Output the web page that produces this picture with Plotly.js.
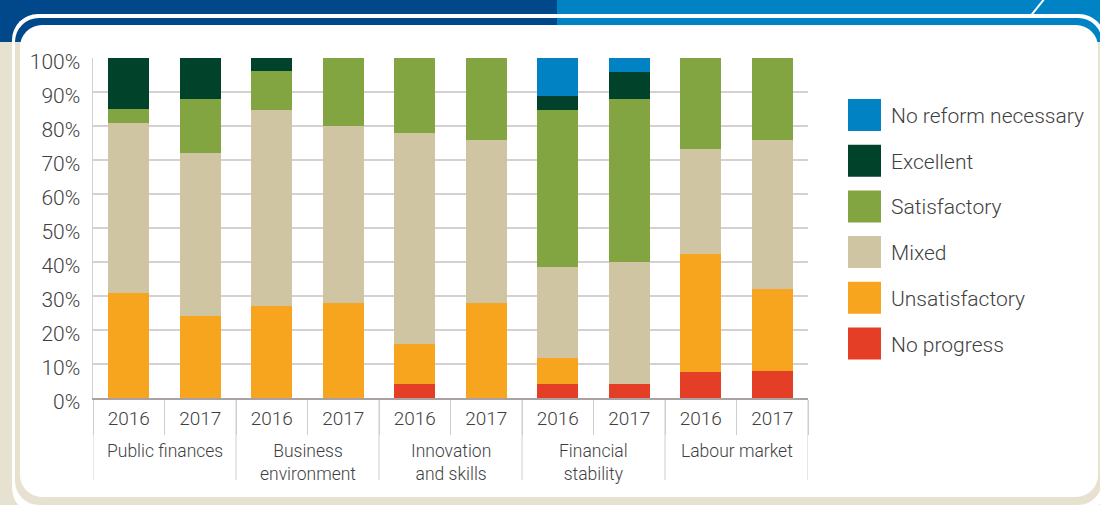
<!DOCTYPE html>
<html>
<head>
<meta charset="utf-8">
<script src="https://cdn.plot.ly/plotly-3.0.1.min.js"></script>
<style>
  html, body { margin: 0; padding: 0; width: 1100px; height: 505px; overflow: hidden; background: #e7e1d0; }
  .abs { position: absolute; }
  #band { left: 0; top: 0; width: 1100px; height: 42px;
          background: linear-gradient(to right, #00488a 557px, #0083c4 557px); }
  #outerline { left: 12px; top: 14px; width: 1093px; height: 500px; border-radius: 26px; background: #ffffff; }
  #innerband { left: 15px; top: 18px; width: 1087px; height: 487px; border-radius: 24px;
               background: linear-gradient(to bottom, rgba(0,0,0,0) 24px, #e7e1d0 24px),
                           linear-gradient(to right, #00488a 542px, #0083c4 542px); }
  #inner { left: 20px; top: 25px; width: 1078px; height: 472px; border-radius: 22px; background: #ffffff; }
  #slash { left: 1036px; top: -3px; width: 2px; height: 22px; background: #ffffff; transform: rotate(39deg); }
  #chart { left: 0; top: 0; width: 1100px; height: 505px; }
</style>
</head>
<body>
<div id="band" class="abs"></div>
<div id="outerline" class="abs"></div>
<div id="innerband" class="abs"></div>
<div id="inner" class="abs"></div>
<div id="slash" class="abs"></div>
<div id="chart" class="abs"></div>
<script>
// ---- data ----
const groups = ['Public finances', 'Business<br>environment', 'Innovation<br>and skills', 'Financial<br>stability', 'Labour market'];
const years = ['2016', '2017'];

// series, bottom of stack to top
const seriesNames = ['No progress', 'Unsatisfactory', 'Mixed', 'Satisfactory', 'Excellent', 'No reform necessary'];
const seriesColors = ['#e53e26', '#f7a51e', '#cfc5a2', '#82a541', '#00432a', '#0082c3'];

const noProgress     = [0,  0,  0,    0,  4,  0,  4,    4,  7.7, 8];
const unsatisfactory = [31, 24, 27,   28, 12, 28, 7.7,  0,  34.6, 24];
const mixed          = [50, 48, 57.7, 52, 62, 48, 26.9, 36, 30.8, 44];
const satisfactory   = [4,  16, 11.5, 20, 22, 24, 46,   48, 26.9, 24];
const excellent      = [15, 12, 3.8,  0,  0,  0,  4.1,  8,  0,    0];
const noReform       = [0,  0,  0,    0,  0,  0,  11.3, 4,  0,    0];

const seriesValues = [noProgress, unsatisfactory, mixed, satisfactory, excellent, noReform];

const yTickVals = [0, 10, 20, 30, 40, 50, 60, 70, 80, 90, 100];

// ---- build ----
// one slot per (group, year); slot index is the x position on the axis
const slotIdx = [];
const slotText = [];
groups.forEach((g, gi) => years.forEach((yr, yi) => {
  slotIdx.push(gi * years.length + yi);
  slotText.push(yr);
}));
const nSlots = slotIdx.length;

const FONT = 'Roboto, "Open Sans", sans-serif';
const TXT = '#3f3f3f';
const WEIGHT = 300;
const LINE = '#d3cccc';

const traces = seriesNames.map((name, i) => ({
  type: 'bar',
  name: name,
  x: slotIdx,
  y: seriesValues[i],
  marker: { color: seriesColors[i], line: { width: 0 } },
  showlegend: false,
  hoverinfo: 'skip'
}));

// plot area geometry (px)
const W = 1100, H = 505;
const M = { l: 93, r: 292, t: 58, b: 107 };
const PW = W - M.l - M.r, PH = H - M.t - M.b;
const px2x = p => (p - M.l) / PW;
const px2y = p => (H - M.b - p) / PH;

const shapes = [];
const annotations = [];

// group dividers and group labels below the year labels
groups.forEach((g, gi) => {
  const first = gi * years.length;
  annotations.push({
    xref: 'x', yref: 'paper', x: first + (years.length - 1) / 2, y: px2y(439),
    xanchor: 'center', yanchor: 'top', showarrow: false, align: 'center',
    text: g, font: { family: FONT, size: 17.5, color: TXT, weight: WEIGHT }
  });
});
for (let gi = 0; gi <= groups.length; gi++) {
  const xb = gi * years.length - 0.5;
  shapes.push({
    type: 'line', xref: 'x', yref: 'paper', x0: xb, x1: xb, y0: 0, y1: px2y(480),
    line: { color: LINE, width: 1 }, layer: 'below'
  });
}

// custom legend, top row = last series
const legendOrder = seriesNames.map((_, i) => seriesNames.length - 1 - i);
legendOrder.forEach((si, k) => {
  const cy = 115 + k * 45.7;
  shapes.push({
    type: 'rect', xref: 'paper', yref: 'paper',
    x0: px2x(848), x1: px2x(881), y0: px2y(cy + 16), y1: px2y(cy - 16),
    fillcolor: seriesColors[si], line: { width: 0 }, layer: 'above'
  });
  annotations.push({
    xref: 'paper', yref: 'paper', x: px2x(889), y: px2y(cy + 1),
    xanchor: 'left', yanchor: 'middle', showarrow: false,
    text: seriesNames[si], font: { family: FONT, size: 21, color: TXT, weight: WEIGHT }
  });
});

const boundaries = [];
for (let i = 0; i <= nSlots; i++) boundaries.push(i - 0.5);

const layout = {
  width: W, height: H,
  margin: { l: M.l, r: M.r, t: M.t, b: M.b, pad: 0, autoexpand: false },
  paper_bgcolor: 'rgba(0,0,0,0)',
  plot_bgcolor: 'rgba(0,0,0,0)',
  barmode: 'stack',
  bargap: 0.427,
  showlegend: false,
  font: { family: FONT, color: TXT },
  xaxis: {
    range: [-0.5, nSlots - 0.5],
    tickmode: 'array', tickvals: slotIdx, ticktext: slotText,
    showgrid: false, zeroline: false,
    showline: true, linecolor: '#aaa2a2', linewidth: 2,
    ticks: '',
    minor: { tickmode: 'array', tickvals: boundaries, ticks: 'outside', ticklen: 35,
             tickcolor: LINE, tickwidth: 1, showgrid: false },
    tickfont: { family: FONT, size: 19, color: TXT, weight: WEIGHT },
    ticklabelstandoff: 2,
    fixedrange: true
  },
  yaxis: {
    range: [0, 100],
    tickvals: yTickVals,
    ticktext: yTickVals.map(v => v + '%'),
    showgrid: true, gridcolor: '#d6d0d0', gridwidth: 1.5,
    showline: true, linecolor: '#d6d0d0', linewidth: 1.5,
    zeroline: false,
    ticks: '',
    tickfont: { family: FONT, size: 21, color: TXT, weight: WEIGHT },
    ticklabelstandoff: 7,
    ticklabelshift: 4,
    fixedrange: true
  },
  shapes: shapes,
  annotations: annotations
};

Plotly.newPlot('chart', traces, layout, { displayModeBar: false, staticPlot: true });
</script>
</body>
</html>
